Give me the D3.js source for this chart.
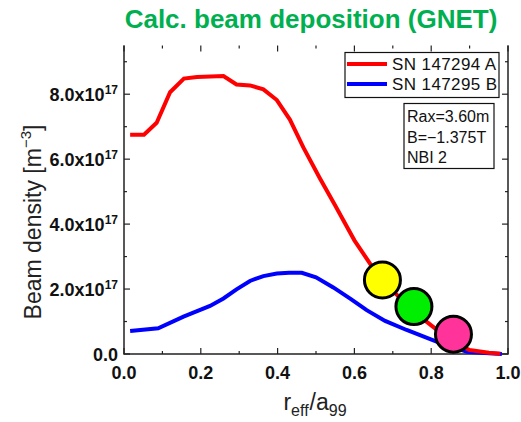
<!DOCTYPE html>
<html>
<head>
<meta charset="utf-8">
<script src="https://cdn.jsdelivr.net/npm/d3@7"></script>
<style>
  body { margin: 0; background: #fff; }
  svg { display: block; font-family: "Liberation Sans", Arial, sans-serif; }
</style>
</head>
<body>
<div id="chart"></div>
<script>
// profile A (red), r_eff/a99 vs beam density
const rA = [0.016, 0.052, 0.085, 0.12, 0.156, 0.19, 0.259, 0.293, 0.328, 0.363, 0.398, 0.432, 0.467, 0.51, 0.55, 0.6, 0.65, 0.7, 0.75, 0.8, 0.85, 0.9, 0.95, 0.98];
const densA = [6.75, 6.75, 7.12, 8.06, 8.48, 8.53, 8.56, 8.30, 8.27, 8.15, 7.82, 7.22, 6.36, 5.41, 4.57, 3.50, 2.62, 1.95, 1.35, 0.88, 0.42, 0.12, 0.04, 0.01].map(v => v * 1e17);
// profile B (blue)
const rB = [0.016, 0.089, 0.155, 0.224, 0.259, 0.293, 0.328, 0.363, 0.398, 0.43, 0.463, 0.5, 0.545, 0.59, 0.632, 0.68, 0.736, 0.814, 0.893, 0.95, 0.984];
const densB = [0.71, 0.79, 1.15, 1.48, 1.71, 1.99, 2.25, 2.40, 2.48, 2.50, 2.50, 2.36, 2.05, 1.70, 1.35, 1.02, 0.74, 0.38, 0.07, 0.02, 0.0].map(v => v * 1e17);
// coloured markers
const markR = [0.673, 0.755, 0.858];
const markD = [2.28, 1.46, 0.61].map(v => v * 1e17);
const markColors = ["#ffff00", "#00ee00", "#ff3399"];

const seriesNames = ["SN 147294 A", "SN 147295 B"];
const seriesColors = ["#ff0000", "#0000ff"];
const infoLines = ["Rax=3.60m", "B=\u22121.375T", "NBI 2"];
const xTicks = [0, 0.2, 0.4, 0.6, 0.8, 1.0];
const yTicks = [0, 2e17, 4e17, 6e17, 8e17];

const W = 521, H = 422;
const pLeft = 124, pRight = 508, pTop = 45.5, pBottom = 354;

const svg = d3.select("#chart").append("svg")
  .attr("width", W).attr("height", H);

const x = d3.scaleLinear().domain([0, 1]).range([pLeft, pRight]);
const y = d3.scaleLinear().domain([0, 9.5e17]).range([pBottom, pTop]);

// title
svg.append("text")
  .attr("x", 311).attr("y", 28)
  .attr("text-anchor", "middle")
  .attr("font-size", 26).attr("font-weight", "bold")
  .attr("fill", "#00b050")
  .text("Calc. beam deposition (GNET)");

// ticks (inward) on all four sides, no top line
function ticksX(yPos, dir) {
  d3.range(0, 1.0001, 0.1).forEach((v, i) => {
    const len = i % 2 === 0 ? 6 : 3;
    svg.append("line")
      .attr("x1", x(v)).attr("x2", x(v))
      .attr("y1", yPos).attr("y2", yPos + dir * len)
      .attr("stroke", "#222").attr("stroke-width", 1.2);
  });
}
function ticksY(xPos, dir) {
  d3.range(0, 9.01e17, 1e17).forEach((v, i) => {
    const len = i % 2 === 0 ? 6 : 3;
    svg.append("line")
      .attr("x1", xPos).attr("x2", xPos + dir * len)
      .attr("y1", y(v)).attr("y2", y(v))
      .attr("stroke", "#222").attr("stroke-width", 1.2);
  });
}
ticksX(pBottom, -1);
ticksX(pTop, 1);
ticksY(pLeft, 1);
ticksY(pRight, -1);

// frame lines (left, right, bottom)
svg.append("path")
  .attr("d", `M${pLeft},${pTop}V${pBottom}H${pRight}V${pTop}`)
  .attr("fill", "none").attr("stroke", "#222").attr("stroke-width", 1.5);

// x tick labels
svg.append("g").selectAll("text").data(xTicks).join("text")
  .attr("x", d => x(d)).attr("y", 379)
  .attr("text-anchor", "middle")
  .attr("font-size", 18).attr("font-weight", "bold").attr("fill", "#111")
  .text(d => d.toFixed(1));

// y tick labels with superscript exponent
const yl = svg.append("g").selectAll("text").data(yTicks).join("text")
  .attr("x", 118).attr("y", d => y(d) + 7)
  .attr("text-anchor", "end")
  .attr("font-size", 18).attr("font-weight", "bold").attr("fill", "#111");
yl.each(function(d) {
  const t = d3.select(this);
  if (d === 0) { t.text("0.0"); return; }
  t.append("tspan").text((d / 1e17).toFixed(1) + "x10");
  t.append("tspan").attr("font-size", 12).attr("dy", -7).text("17");
});

// axis titles
const xt = svg.append("text")
  .attr("x", 315).attr("y", 410)
  .attr("text-anchor", "middle")
  .attr("font-size", 23).attr("fill", "#222");
xt.append("tspan").text("r");
xt.append("tspan").attr("font-size", 16).attr("dy", 6).text("eff");
xt.append("tspan").attr("dy", -6).attr("dx", 1).text("/a");
xt.append("tspan").attr("font-size", 16).attr("dy", 6).text("99");

const yt = svg.append("text")
  .attr("transform", "translate(41,222) rotate(-90)")
  .attr("text-anchor", "middle")
  .attr("font-size", 23).attr("fill", "#222");
yt.append("tspan").text("Beam density [m");
yt.append("tspan").attr("font-size", 15).attr("dy", -10).text("\u22123");
yt.append("tspan").attr("dy", 10).text("]");

// lines
const line = d3.line().x(d => x(d[0])).y(d => y(d[1]));
const dataA = rA.map((r, i) => [r, densA[i]]);
const dataB = rB.map((r, i) => [r, densB[i]]);
svg.append("path").datum(dataB)
  .attr("d", line).attr("fill", "none")
  .attr("stroke", seriesColors[1]).attr("stroke-width", 4);
svg.append("path").datum(dataA)
  .attr("d", line).attr("fill", "none")
  .attr("stroke", seriesColors[0]).attr("stroke-width", 4);

// circles
svg.append("g").selectAll("circle").data(markR).join("circle")
  .attr("cx", d => x(d)).attr("cy", (d, i) => y(markD[i]))
  .attr("r", 18)
  .attr("fill", (d, i) => markColors[i])
  .attr("stroke", "#000").attr("stroke-width", 3);

// legend
svg.append("rect")
  .attr("x", 345).attr("y", 52.5).attr("width", 154).attr("height", 45)
  .attr("fill", "#fff").attr("stroke", "#111").attr("stroke-width", 1.2);
seriesNames.forEach((name, i) => {
  const ly = 64 + i * 20;
  svg.append("line")
    .attr("x1", 347).attr("x2", 387).attr("y1", ly).attr("y2", ly)
    .attr("stroke", seriesColors[i]).attr("stroke-width", 4);
  svg.append("text")
    .attr("x", 392).attr("y", ly + 6)
    .attr("font-size", 17).attr("letter-spacing", 0.4).attr("fill", "#111")
    .text(name);
});

// info box
svg.append("rect")
  .attr("x", 404).attr("y", 103.5).attr("width", 90).attr("height", 65)
  .attr("fill", "#fff").attr("stroke", "#111").attr("stroke-width", 1.2);
infoLines.forEach((s, i) => {
  svg.append("text")
    .attr("x", 407).attr("y", 122 + i * 20.5)
    .attr("font-size", 16).attr("fill", "#111")
    .text(s);
});
</script>
</body>
</html>
